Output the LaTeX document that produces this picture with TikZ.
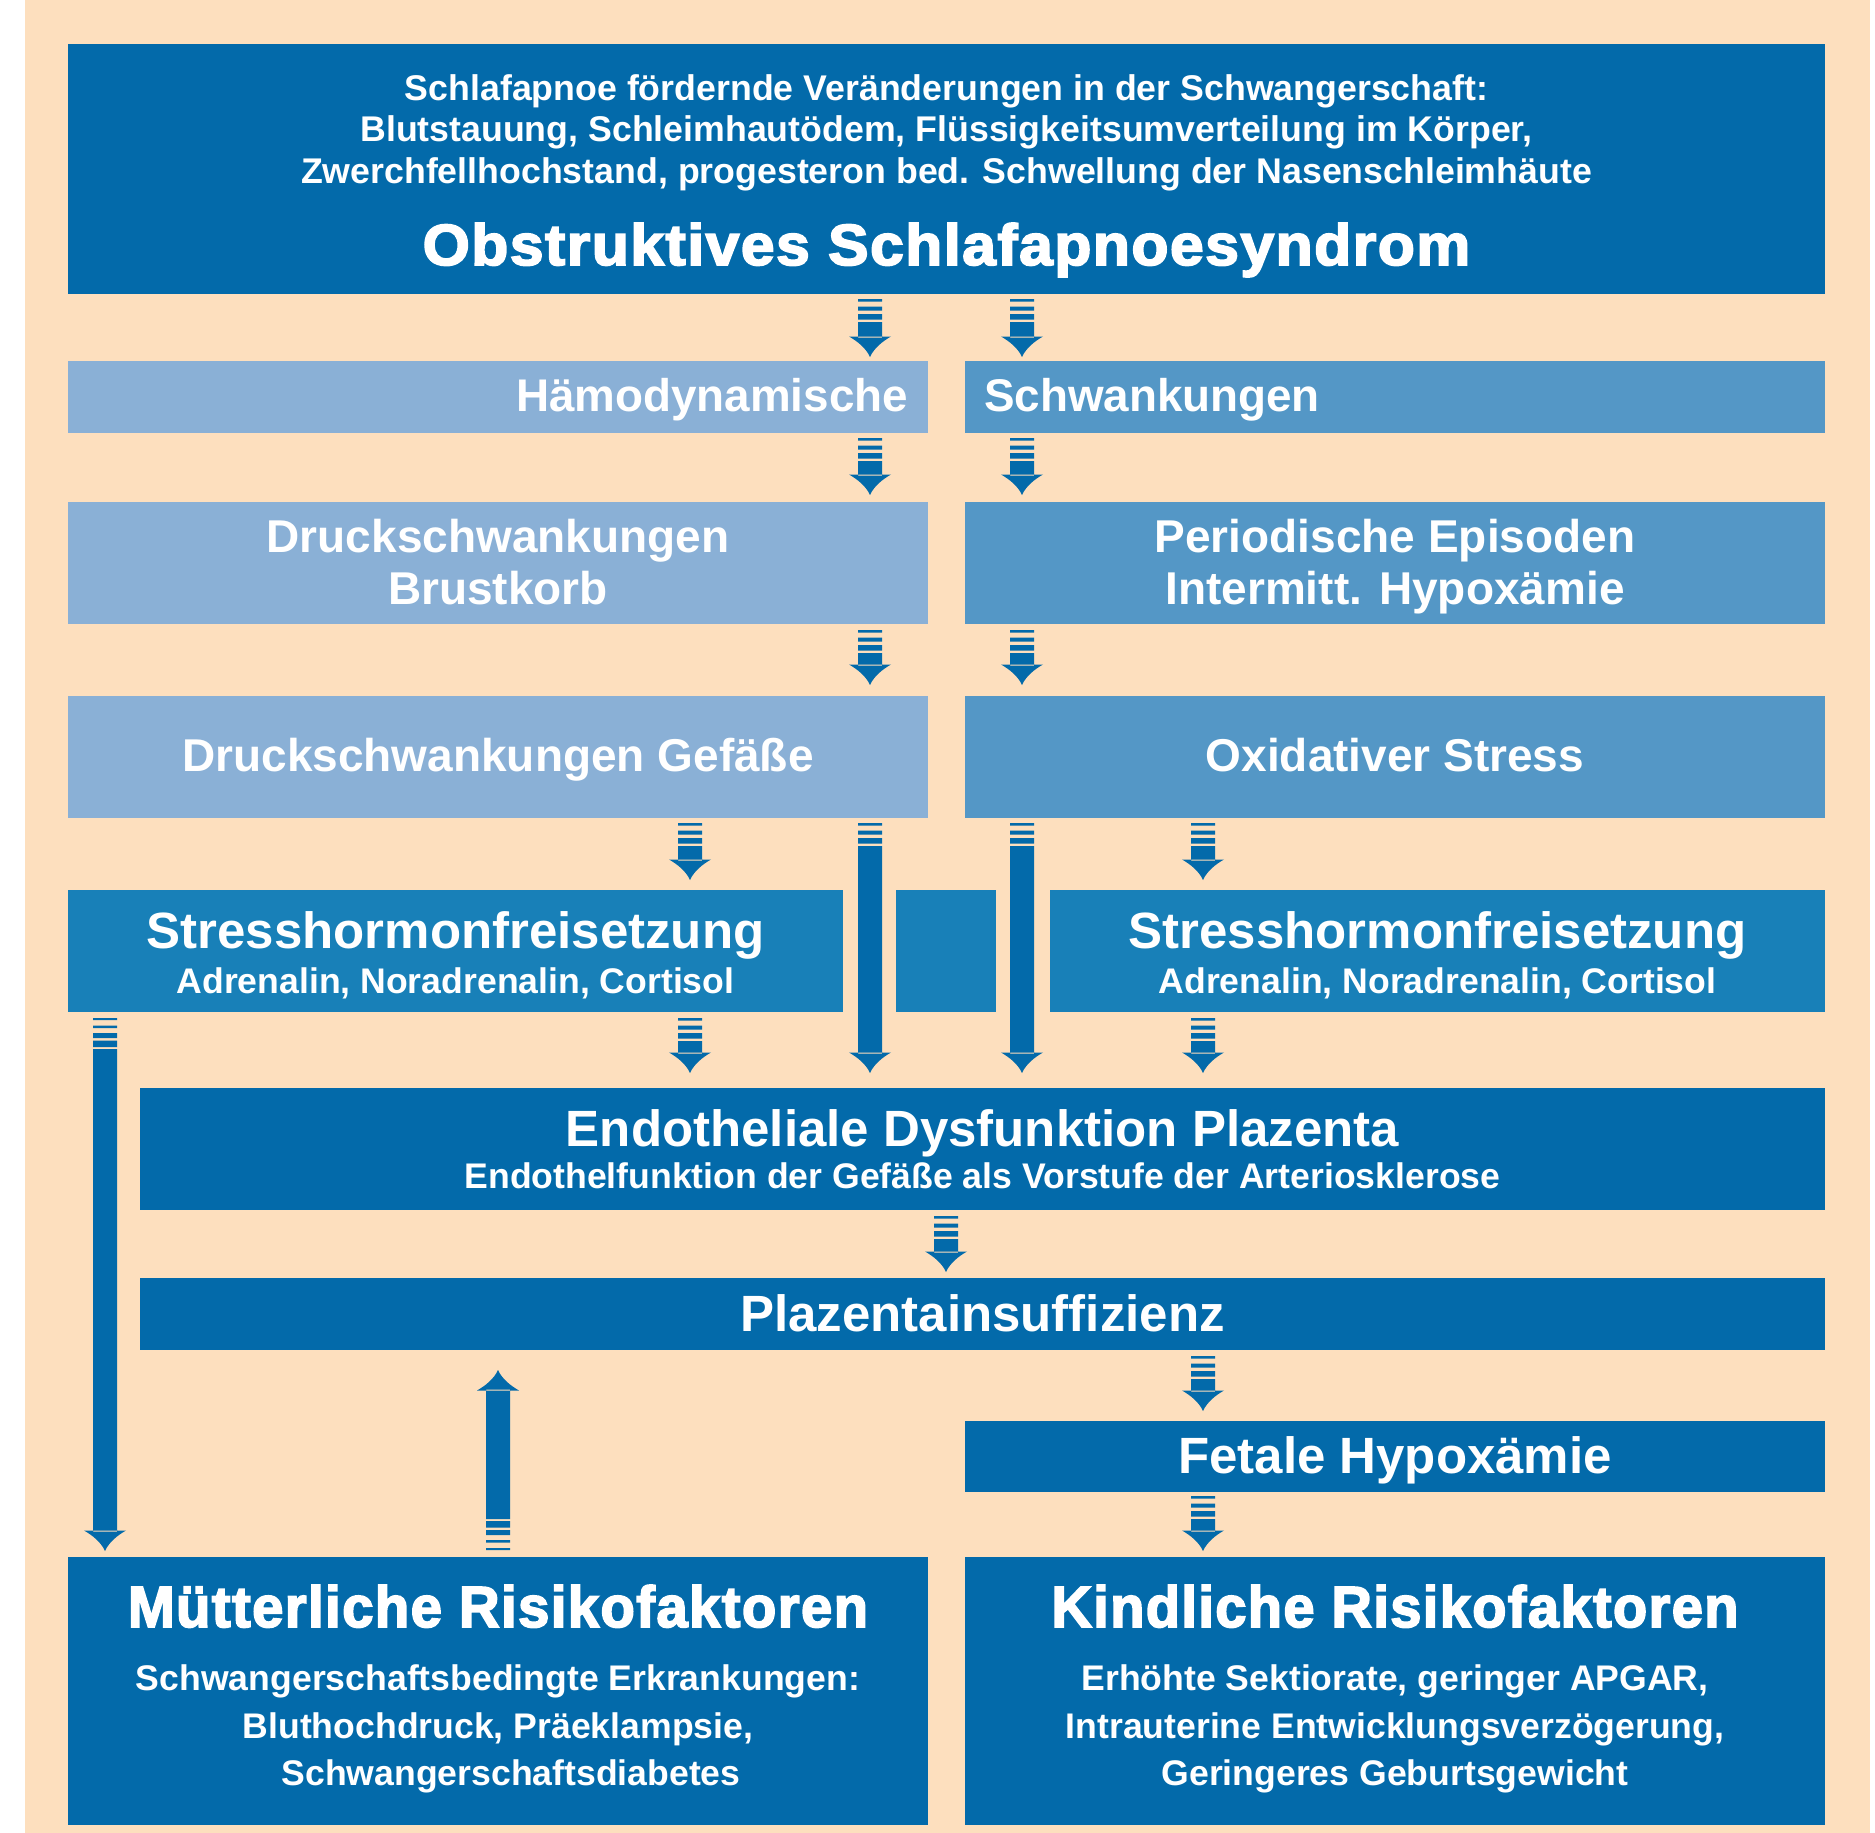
\documentclass[tikz,border=0pt]{standalone}
\usepackage{fontspec}
\usepackage{graphicx}
\setmainfont{Liberation Sans}
\newfontfamily\heavyfont{Liberation Sans Bold}[FakeBold=3, LetterSpace=2.5]
\usetikzlibrary{calc}
\definecolor{peach}{HTML}{FDDFBE}
\definecolor{dblue}{HTML}{036AAA}
\definecolor{lblue}{HTML}{8AB0D6}
\definecolor{mblue}{HTML}{5497C6}
\definecolor{sblue}{HTML}{1880B8}
\newcommand\fs[1]{\fontsize{#1}{#1}\selectfont\bfseries}
\newcommand\hv[1]{\heavyfont\fontsize{#1}{#1}\selectfont}
% arrow with 3 stripes: #1 start, #2 tip
\newcommand\flowarrow[2]{%
 \fill[dblue] let \p1=#1, \p2=#2, \n1={(\y2-\y1)/abs(\y2-\y1)}, \n2={abs(\y2-\y1)} in
  ({\x1-12pt},{\y1}) rectangle ({\x1+12pt},{\y1+\n1*2.5pt})
  ({\x1-12pt},{\y1+\n1*7.5pt}) rectangle ({\x1+12pt},{\y1+\n1*11.5pt})
  ({\x1-12pt},{\y1+\n1*15pt}) rectangle ({\x1+12pt},{\y1+\n1*20.5pt})
  ({\x1-12pt},{\y1+\n1*23pt}) rectangle ({\x1+12pt},{\y1+\n1*(\n2-19.5)*1pt})
  ({\x1-21pt},{\y1+\n1*(\n2-20.5)*1pt}) -- ({\x1+21pt},{\y1+\n1*(\n2-20.5)*1pt})
   .. controls ({\x1+13pt},{\y1+\n1*(\n2-16)*1pt}) and ({\x1+4pt},{\y1+\n1*(\n2-9)*1pt}) .. (\x1,\y2)
   .. controls ({\x1-4pt},{\y1+\n1*(\n2-9)*1pt}) and ({\x1-13pt},{\y1+\n1*(\n2-16)*1pt}) .. cycle;
}
% arrow with 4 stripes
\newcommand\flowarrowlong[2]{%
 \fill[dblue] let \p1=#1, \p2=#2, \n1={(\y2-\y1)/abs(\y2-\y1)}, \n2={abs(\y2-\y1)} in
  ({\x1-12pt},{\y1}) rectangle ({\x1+12pt},{\y1+\n1*2pt})
  ({\x1-12pt},{\y1+\n1*7.5pt}) rectangle ({\x1+12pt},{\y1+\n1*10pt})
  ({\x1-12pt},{\y1+\n1*15pt}) rectangle ({\x1+12pt},{\y1+\n1*20pt})
  ({\x1-12pt},{\y1+\n1*22.5pt}) rectangle ({\x1+12pt},{\y1+\n1*29pt})
  ({\x1-12pt},{\y1+\n1*31pt}) rectangle ({\x1+12pt},{\y1+\n1*(\n2-19.5)*1pt})
  ({\x1-21pt},{\y1+\n1*(\n2-20.5)*1pt}) -- ({\x1+21pt},{\y1+\n1*(\n2-20.5)*1pt})
   .. controls ({\x1+13pt},{\y1+\n1*(\n2-16)*1pt}) and ({\x1+4pt},{\y1+\n1*(\n2-9)*1pt}) .. (\x1,\y2)
   .. controls ({\x1-4pt},{\y1+\n1*(\n2-9)*1pt}) and ({\x1-13pt},{\y1+\n1*(\n2-16)*1pt}) .. cycle;
}
\tikzset{
 box/.style={fill=#1, draw=none, inner sep=0, outer sep=0, rectangle, anchor=north west},
 txt/.style={text=white, inner sep=0, outer sep=0, anchor=base},
}
\begin{document}
\begin{tikzpicture}[x=1pt, y=-1pt]
\useasboundingbox (0,0) rectangle (1875,1833);
\fill[white] (0,0) rectangle (1875,1833);
\fill[peach] (25,0) rectangle (1870,1833);

% boxes
\node[box=dblue, minimum width=1757, minimum height=250] (top) at (68,44) {};
\node[box=lblue, minimum width=860, minimum height=72] (hae) at (68,361) {};
\node[box=mblue, minimum width=860, minimum height=72] (schw) at (965,361) {};
\node[box=lblue, minimum width=860, minimum height=122] (druckb) at (68,502) {};
\node[box=mblue, minimum width=860, minimum height=122] (per) at (965,502) {};
\node[box=lblue, minimum width=860, minimum height=122] (druckg) at (68,696) {};
\node[box=mblue, minimum width=860, minimum height=122] (oxi) at (965,696) {};
\node[box=sblue, minimum width=775, minimum height=122] (stressL) at (68,890) {};
\node[box=sblue, minimum width=100, minimum height=122] (mid) at (896,890) {};
\node[box=sblue, minimum width=775, minimum height=122] (stressR) at (1050,890) {};
\node[box=dblue, minimum width=1685, minimum height=122] (endo) at (140,1088) {};
\node[box=dblue, minimum width=1685, minimum height=72] (plaz) at (140,1278) {};
\node[box=dblue, minimum width=860, minimum height=71] (fetal) at (965,1421) {};
\node[box=dblue, minimum width=860, minimum height=268] (mutter) at (68,1557) {};
\node[box=dblue, minimum width=860, minimum height=268] (kind) at (965,1557) {};

% texts
\node[txt, font=\fs{35.7}] (top1) at ($(top.north)+(0,57)$) {Schlafapnoe fördernde Veränderungen in der Schwangerschaft:};
\node[txt, font=\fs{35.7}] (top2) at ($(top.north)+(0,98)$) {Blutstauung, Schleimhautödem, Flüssigkeitsumverteilung im Körper,};
\node[txt, font=\fs{35.7}] (top3) at ($(top.north)+(0,139)$) {Zwerchfellhochstand, progesteron bed. Schwellung der Nasenschleimhäute};
\node[txt, font=\hv{58}] (title) at ($(top.north)+(0,221)$) {\scalebox{1.045}[1]{Obstruktives Schlafapnoesyndrom}};

\node[txt, anchor=base east, font=\fs{45.8}] (haet) at ($(hae.north east)+(-20,50)$) {Hämodynamische};
\node[txt, anchor=base west, font=\fs{45.8}] (schwt) at ($(schw.north west)+(19,50)$) {Schwankungen};

\node[txt, font=\fs{46}] (druckb1) at ($(druckb.north)+(0,50)$) {Druckschwankungen};
\node[txt, font=\fs{46}] (druckb2) at ($(druckb.north)+(0,102)$) {Brustkorb};
\node[txt, font=\fs{46}] (per1) at ($(per.north)+(0,50)$) {Periodische Episoden};
\node[txt, font=\fs{46}] (per2) at ($(per.north)+(0,102)$) {Intermitt. Hypoxämie};

\node[txt, font=\fs{46}] (druckgt) at ($(druckg.north)+(0,75)$) {Druckschwankungen Gefäße};
\node[txt, font=\fs{46}] (oxit) at ($(oxi.north)+(0,75)$) {Oxidativer Stress};

\node[txt, font=\fs{51}] (stressL1) at ($(stressL.north)+(0,58)$) {Stresshormonfreisetzung};
\node[txt, font=\fs{35.6}] (stressL2) at ($(stressL.north)+(0,103)$) {Adrenalin, Noradrenalin, Cortisol};
\node[txt, font=\fs{51}] (stressR1) at ($(stressR.north)+(0,58)$) {Stresshormonfreisetzung};
\node[txt, font=\fs{35.6}] (stressR2) at ($(stressR.north)+(0,103)$) {Adrenalin, Noradrenalin, Cortisol};

\node[txt, font=\fs{51}] (endo1) at ($(endo.north)+(0,58)$) {Endotheliale Dysfunktion Plazenta};
\node[txt, font=\fs{35.6}] (endo2) at ($(endo.north)+(0,100)$) {Endothelfunktion der Gefäße als Vorstufe der Arteriosklerose};

\node[txt, font=\fs{51}] (plazt) at ($(plaz.north)+(0,53)$) {Plazentainsuffizienz};
\node[txt, font=\fs{51}] (fetalt) at ($(fetal.north)+(0,52)$) {Fetale Hypoxämie};

\node[txt, font=\hv{58}] (mutter1) at ($(mutter.north)+(0,70)$) {\scalebox{0.97}[1]{Mütterliche Risikofaktoren}};
\node[txt, font=\fs{35.6}] (mutter2) at ($(mutter.north)+(0,133)$) {Schwangerschaftsbedingte Erkrankungen:};
\node[txt, font=\fs{35.6}] (mutter3) at ($(mutter.north)+(0,181)$) {Bluthochdruck, Präeklampsie,};
\node[txt, font=\fs{35.6}] (mutter4) at ($(mutter.north)+(13,228)$) {Schwangerschaftsdiabetes};

\node[txt, font=\hv{58}] (kind1) at ($(kind.north)+(0,70)$) {\scalebox{0.965}[1]{Kindliche Risikofaktoren}};
\node[txt, font=\fs{35.6}] (kind2) at ($(kind.north)+(0,133)$) {Erhöhte Sektiorate, geringer APGAR,};
\node[txt, font=\fs{35.6}] (kind3) at ($(kind.north)+(0,181)$) {Intrauterine Entwicklungsverzögerung,};
\node[txt, font=\fs{35.6}] (kind4) at ($(kind.north)+(0,228)$) {Geringeres Geburtsgewicht};

% arrows
\flowarrow{($(top.south)+(-76.5,5)$)}{($(hae.north east)+(-58,-4)$)}
\flowarrow{($(top.south)+(75.5,5)$)}{($(schw.north west)+(57,-4)$)}
\flowarrow{($(hae.south east)+(-58,5)$)}{($(druckb.north east)+(-58,-7)$)}
\flowarrow{($(schw.south west)+(57,5)$)}{($(per.north west)+(57,-7)$)}
\flowarrow{($(druckb.south east)+(-58,6)$)}{($(druckg.north east)+(-58,-11)$)}
\flowarrow{($(per.south west)+(57,6)$)}{($(oxi.north west)+(57,-11)$)}
\flowarrow{($(druckg.south east)+(-238,5)$)}{($(stressL.north east)+(-153,-10)$)}
\flowarrow{($(oxi.south west)+(238,5)$)}{($(stressR.north west)+(153,-10)$)}
\flowarrow{($(druckg.south east)+(-58,5)$)}{($(endo.north west)+(730,-15)$)}
\flowarrow{($(oxi.south west)+(57,5)$)}{($(endo.north west)+(882,-15)$)}
\flowarrow{($(stressL.south east)+(-153,6)$)}{($(endo.north west)+(550,-15)$)}
\flowarrow{($(stressR.south west)+(153,6)$)}{($(endo.north west)+(1063,-15)$)}
\flowarrowlong{($(stressL.south west)+(37,6)$)}{($(mutter.north west)+(37,-6)$)}
\flowarrow{($(endo.south west)+(806,6)$)}{($(plaz.north west)+(806,-6)$)}
\flowarrow{($(plaz.south west)+(1063,6)$)}{($(fetal.north west)+(238,-10)$)}
\flowarrow{($(fetal.south west)+(238,4)$)}{($(kind.north west)+(238,-6)$)}
\flowarrowlong{($(mutter.north)+(0,-7)$)}{($(plaz.south west)+(358,20)$)}
\end{tikzpicture}
\end{document}
